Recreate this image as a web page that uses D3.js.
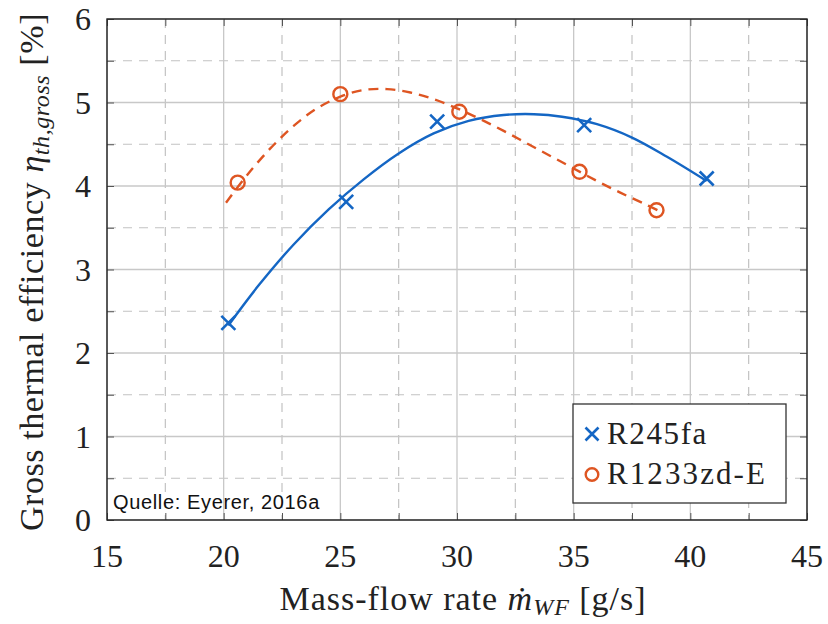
<!DOCTYPE html>
<html><head><meta charset="utf-8">
<script src="https://cdn.jsdelivr.net/npm/d3@7"></script>
<style>body{margin:0;background:#fff;} svg{display:block;}</style>
</head><body>
<svg id="chart" width="828" height="624"></svg>
<script>
// ---- data ----
const xTicks = [15, 20, 25, 30, 35, 40, 45];
const yTicks = [0, 1, 2, 3, 4, 5, 6];
const xMinor = [17.5, 22.5, 27.5, 32.5, 37.5, 42.5];
const yMinor = [0.5, 1.5, 2.5, 3.5, 4.5, 5.5];

const seriesNames = ["R245fa", "R1233zd-E"];
const r245X = [20.2, 25.25, 29.15, 35.45, 40.7];
const r245Y = [2.36, 3.81, 4.77, 4.73, 4.09];
const r1233X = [20.6, 25.0, 30.1, 35.25, 38.55];
const r1233Y = [4.04, 5.10, 4.89, 4.17, 3.71];

// fitted trend curves
const r245FitX = [20.2, 21.5, 23, 24.5, 26, 27.5, 29, 30.5, 32, 33.3, 34.5, 36, 37.5, 39, 40.7];
const r245FitY = [2.33, 2.81, 3.30, 3.72, 4.08, 4.39, 4.63, 4.78, 4.85, 4.86, 4.83, 4.74, 4.58, 4.35, 4.06];
const r1233FitX = [20.1, 21, 22, 23, 24, 25, 26, 27, 28, 29, 30, 31, 32, 33, 34, 35, 36, 37, 38, 38.6];
const r1233FitY = [3.80, 4.13, 4.45, 4.72, 4.93, 5.07, 5.15, 5.16, 5.12, 5.04, 4.93, 4.80, 4.66, 4.51, 4.36, 4.21, 4.06, 3.92, 3.79, 3.71];

const source = "Quelle: Eyerer, 2016a";

// ---- layout ----
const L = 107, T = 19, W = 700, H = 501;
const blue = "#1466c4", orange = "#de5522";
const svg = d3.select("#chart");
const x = d3.scaleLinear().domain([15, 45]).range([L, L + W]);
const y = d3.scaleLinear().domain([0, 6]).range([T + H, T]);
const serif = "'Liberation Serif', 'Times New Roman', serif";

function fitWidth(sel, target) {
  const n = sel.text().length;
  const w = sel.node().getComputedTextLength();
  sel.attr("letter-spacing", ((target - w) / n).toFixed(2));
}

const g = svg.append("g");
// grid
g.selectAll(".gxm").data(xMinor).enter().append("line")
  .attr("x1", d => x(d)).attr("x2", d => x(d)).attr("y1", T).attr("y2", T + H)
  .attr("stroke", "#c2c2c2").attr("stroke-width", 1.2).attr("stroke-dasharray", "9,7");
g.selectAll(".gym").data(yMinor).enter().append("line")
  .attr("y1", d => y(d)).attr("y2", d => y(d)).attr("x1", L).attr("x2", L + W)
  .attr("stroke", "#c2c2c2").attr("stroke-width", 1.2).attr("stroke-dasharray", "9,7");
g.selectAll(".gx").data(xTicks).enter().append("line")
  .attr("x1", d => x(d)).attr("x2", d => x(d)).attr("y1", T).attr("y2", T + H)
  .attr("stroke", "#c8c8c8").attr("stroke-width", 1.3);
g.selectAll(".gy").data(yTicks).enter().append("line")
  .attr("y1", d => y(d)).attr("y2", d => y(d)).attr("x1", L).attr("x2", L + W)
  .attr("stroke", "#c8c8c8").attr("stroke-width", 1.3);

// axes with inward ticks on all sides
const allX = xTicks.concat(xMinor), allY = yTicks.concat(yMinor);
const axB = d3.axisBottom(x).tickValues(allX).tickSize(-7).tickFormat("");
const axT = d3.axisTop(x).tickValues(allX).tickSize(-7).tickFormat("");
const axLf = d3.axisLeft(y).tickValues(allY).tickSize(-7).tickFormat("");
const axR = d3.axisRight(y).tickValues(allY).tickSize(-7).tickFormat("");
[[axB, `translate(0,${T + H})`], [axT, `translate(0,${T})`], [axLf, `translate(${L},0)`], [axR, `translate(${L + W},0)`]]
  .forEach(([a, tr]) => {
    const ag = svg.append("g").attr("transform", tr).call(a);
    ag.select(".domain").remove();
    ag.selectAll(".tick line").attr("stroke", "#555").attr("stroke-width", 1);
  });
svg.append("rect").attr("x", L).attr("y", T).attr("width", W).attr("height", H)
  .attr("fill", "none").attr("stroke", "#222").attr("stroke-width", 1.4);

// tick labels
svg.selectAll(".xl").data(xTicks).enter().append("text")
  .attr("x", d => x(d)).attr("y", 567).attr("text-anchor", "middle")
  .attr("font-family", serif).attr("font-size", 32).attr("fill", "#222").text(d => d);
svg.selectAll(".yl").data(yTicks).enter().append("text")
  .attr("x", 91).attr("y", d => y(d) + 11).attr("text-anchor", "end")
  .attr("font-family", serif).attr("font-size", 32).attr("fill", "#222").text(d => d);

// axis titles
const xt = svg.append("text").attr("x", 463).attr("y", 610).attr("text-anchor", "middle")
  .attr("font-family", serif).attr("font-size", 34).attr("fill", "#222");
xt.append("tspan").text("Mass-flow rate ");
xt.append("tspan").attr("font-style", "italic").text("ṁ");
xt.append("tspan").attr("font-style", "italic").attr("font-size", 24).attr("dy", 5).text("WF");
xt.append("tspan").attr("dy", -5).text(" [g/s]");
fitWidth(xt, 367);

const yt = svg.append("text").attr("transform", `translate(43,272) rotate(-90)`)
  .attr("text-anchor", "middle").attr("font-family", serif).attr("font-size", 34).attr("fill", "#222");
yt.append("tspan").text("Gross thermal efficiency ");
yt.append("tspan").attr("font-style", "italic").text("η");
yt.append("tspan").attr("font-style", "italic").attr("font-size", 24).attr("dy", 6).text("th,gross");
yt.append("tspan").attr("dy", -6).text(" [%]");
fitWidth(yt, 518);

// fit curves
const line = d3.line().x(d => x(d[0])).y(d => y(d[1])).curve(d3.curveCatmullRom.alpha(0.5));
svg.append("path").datum(r245FitX.map((v, i) => [v, r245FitY[i]])).attr("d", line)
  .attr("fill", "none").attr("stroke", blue).attr("stroke-width", 2.4);
svg.append("path").datum(r1233FitX.map((v, i) => [v, r1233FitY[i]])).attr("d", line)
  .attr("fill", "none").attr("stroke", orange).attr("stroke-width", 2.4).attr("stroke-dasharray", "10,7");

// markers
const xMark = s => `M${-s},${-s}L${s},${s}M${-s},${s}L${s},${-s}`;
svg.selectAll(".m1").data(r245X.map((v, i) => [v, r245Y[i]])).enter().append("path")
  .attr("d", xMark(7)).attr("transform", d => `translate(${x(d[0])},${y(d[1])})`)
  .attr("fill", "none").attr("stroke", blue).attr("stroke-width", 2.6);
svg.selectAll(".m2").data(r1233X.map((v, i) => [v, r1233Y[i]])).enter().append("circle")
  .attr("cx", d => x(d[0])).attr("cy", d => y(d[1])).attr("r", 7)
  .attr("fill", "none").attr("stroke", orange).attr("stroke-width", 2.4);

// legend
svg.append("rect").attr("x", 573).attr("y", 404).attr("width", 213).attr("height", 99)
  .attr("fill", "#fff").attr("stroke", "#333").attr("stroke-width", 1.3);
svg.append("path").attr("d", xMark(6.5))
  .attr("transform", "translate(592,434)").attr("fill", "none").attr("stroke", blue).attr("stroke-width", 2.6);
svg.append("circle").attr("cx", 592).attr("cy", 474.5).attr("r", 6.3)
  .attr("fill", "none").attr("stroke", orange).attr("stroke-width", 2.4);
const lt1 = svg.append("text").attr("x", 607).attr("y", 444).attr("font-family", serif).attr("font-size", 31)
  .attr("fill", "#222").text(seriesNames[0]);
fitWidth(lt1, 101);
const lt2 = svg.append("text").attr("x", 607).attr("y", 484).attr("font-family", serif).attr("font-size", 31)
  .attr("fill", "#222").text(seriesNames[1]);
fitWidth(lt2, 160);

// source
const st = svg.append("text").attr("x", 113).attr("y", 509).attr("font-family", "'Liberation Sans', Arial, sans-serif")
  .attr("font-size", 20).attr("fill", "#111").text(source);
fitWidth(st, 207);
</script>
</body></html>
